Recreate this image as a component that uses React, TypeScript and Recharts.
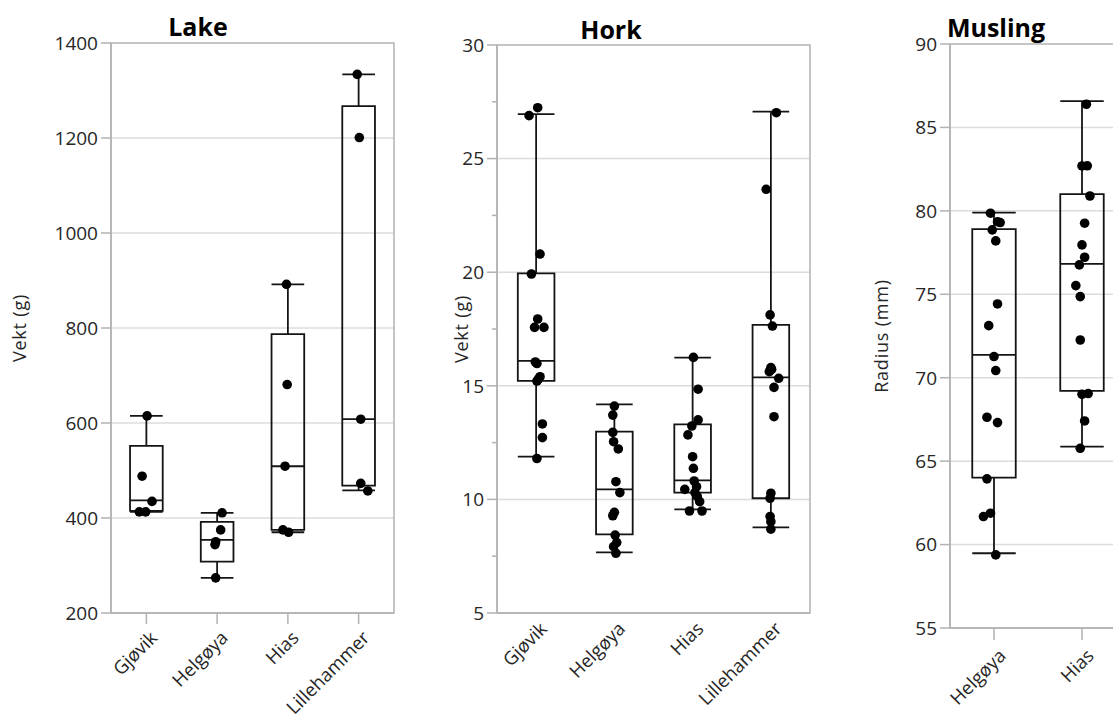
import React from "react";
import {
    ComposedChart, XAxis, YAxis, Scatter, ReferenceArea, ReferenceLine,
    CartesianGrid, Label,
} from "recharts";

const FONT = "'Segoe UI', 'Open Sans', sans-serif";
const AXIS = "#b2b2b2";
const GRID = "#dcdcdc";
const INK = "#141414";
const TEXT = "#262626";

// ── Lake (Vekt g) ────────────────────────────────────────────────────────────

const lakeCategories = ["Gjøvik", "Helgøya", "Hias", "Lillehammer"];
// [min, q1, median, q3, max]
const lakeBoxes = [
    [413, 415, 437, 552, 615],
    [274, 308, 354, 392, 411],
    [370, 375, 509, 787, 892],
    [458, 468, 608, 1267, 1334],
];
// single fish: [value, jitter from group centre]
const lakeGjovik = [[615, 0.01], [488, -0.06], [435, 0.08], [413, -0.1], [413, -0.01]];
const lakeHelgoya = [[411, 0.07], [375, 0.05], [350, -0.02], [344, -0.03], [274, -0.02]];
const lakeHias = [[892, -0.02], [681, -0.01], [509, -0.04], [375, -0.07], [370, 0.01]];
const lakeLillehammer = [[1334, -0.02], [1201, 0.01], [608, 0.03], [473, 0.03], [457, 0.13]];
const lakeTicks = [200, 400, 600, 800, 1000, 1200, 1400];

// ── Hork (Vekt g) ────────────────────────────────────────────────────────────

const horkCategories = ["Gjøvik", "Helgøya", "Hias", "Lillehammer"];
const horkBoxes = [
    [11.88, 15.22, 16.1, 19.95, 26.96],
    [7.67, 8.46, 10.44, 12.98, 14.18],
    [9.56, 10.3, 10.84, 13.3, 16.24],
    [8.77, 10.05, 15.37, 17.68, 27.07],
];
const horkGjovik = [
    [27.24, 0.02], [26.89, -0.09], [20.8, 0.05], [19.92, -0.06], [17.94, 0.02],
    [17.57, -0.02], [17.57, 0.1], [16.05, -0.01], [15.98, 0.01], [15.4, 0.05],
    [15.3, 0.03], [15.21, 0.01], [13.32, 0.08], [12.72, 0.08], [11.8, 0.01],
];
const horkHelgoya = [
    [14.11, 0.0], [13.71, -0.02], [12.95, -0.02], [12.54, -0.01], [12.22, 0.05],
    [10.78, 0.02], [10.3, 0.07], [9.43, 0.0], [9.28, -0.02], [8.43, 0.01],
    [8.1, 0.03], [7.92, -0.01], [7.63, 0.02],
];
const horkHias = [
    [16.25, 0.01], [14.85, 0.07], [13.5, 0.07], [13.23, -0.01], [12.84, -0.06],
    [11.88, 0.0], [11.37, 0.01], [10.81, 0.02], [10.56, 0.05], [10.44, -0.1],
    [10.3, 0.03], [10.12, 0.06], [9.9, 0.09], [9.49, -0.04], [9.49, 0.12],
];
const horkLillehammer = [
    [27.02, 0.07], [23.65, -0.06], [18.12, -0.01], [17.63, 0.02], [15.8, 0.0],
    [15.72, 0.01], [15.62, -0.02], [15.33, 0.1], [14.93, 0.04], [13.64, 0.04],
    [10.27, 0.0], [10.05, -0.01], [9.25, -0.01], [9.02, 0.0], [8.69, 0.0],
];
const horkTicks = [5, 10, 15, 20, 25, 30];
const horkMinorTicks = [7.5, 12.5, 17.5, 22.5, 27.5];

// ── Musling (Radius mm) ──────────────────────────────────────────────────────

const muslingCategories = ["Helgøya", "Hias"];
const muslingBoxes = [
    [59.48, 64.01, 71.37, 78.9, 79.9],
    [65.87, 69.21, 76.82, 81.0, 86.58],
];
const muslingHelgoya = [
    [79.86, -0.04], [79.35, 0.04], [79.3, 0.07], [78.86, -0.02], [78.2, 0.02],
    [74.42, 0.04], [73.12, -0.06], [71.27, 0.0], [70.43, 0.02], [67.63, -0.08],
    [67.31, 0.04], [63.94, -0.08], [61.88, -0.04], [61.68, -0.12], [59.38, 0.02],
];
const muslingHias = [
    [86.39, 0.05], [82.69, 0.0], [82.7, 0.06], [80.89, 0.09], [79.26, 0.03],
    [77.96, 0.0], [77.22, 0.03], [76.76, -0.03], [75.52, -0.07], [74.86, -0.02],
    [72.26, -0.02], [69.01, 0.0], [69.05, 0.07], [67.41, 0.03], [65.77, -0.02],
];
const muslingTicks = [55, 60, 65, 70, 75, 80, 85, 90];

// ── pieces ───────────────────────────────────────────────────────────────────

function YTick(props: any) {
    const { x, y, payload, majors, gap } = props;
    const major = majors.includes(payload.value);
    const ax = x + gap;
    return (
        <g>
            <line x1={ax - (major ? 10 : 5)} x2={ax} y1={y} y2={y} stroke={AXIS} strokeWidth={1.5} />
            {major && (
                <text x={x} y={y} dy="0.36em" textAnchor="end" fontSize={19} fontFamily={FONT} fill={TEXT}>
                    {payload.value}
                </text>
            )}
        </g>
    );
}

function XTick(props: any) {
    const { x, y, payload, names, dx, dy } = props;
    const tx = x + dx, ty = y + dy;
    return (
        <text x={tx} y={ty} transform={`rotate(-45 ${tx} ${ty})`} textAnchor="end"
            fontSize={18.5} fontFamily={FONT} fill={TEXT}>
            {names[payload.value - 1]}
        </text>
    );
}

type PanelProps = {
    categories: string[]; boxes: number[][]; groups: number[][][];
    ticks: number[]; minor?: number[]; yLabel: string;
    left: number; width: number; top: number; bottom: number; right: number;
    yWidth: number; labelOffset: number; half: number;
    xTickSize: number; xDx: number; xDy: number;
};

function Panel(p: PanelProps) {
    const n = p.categories.length;
    const lo = p.ticks[0], hi = p.ticks[p.ticks.length - 1];
    const pts = p.groups.flatMap((g, i) => g.map(([v, j]) => ({ x: i + 1 + j, y: v })));
    const allTicks = [...p.ticks, ...(p.minor ?? [])].sort((a, b) => a - b);
    const line = { stroke: INK, strokeWidth: 1.8 };
    return (
        <div style={{ position: "absolute", left: p.left, top: 0 }}>
            <ComposedChart width={p.width} height={720}
                margin={{ top: p.top, right: p.right, bottom: 0, left: 0 }}>
                <CartesianGrid vertical={false} horizontalValues={p.ticks.slice(1, -1)} stroke={GRID} strokeWidth={1.5} />
                <XAxis type="number" dataKey="x" domain={[0.5, n + 0.5]} ticks={p.categories.map((_, i) => i + 1)}
                    interval={0} height={720 - p.bottom} axisLine={{ stroke: AXIS, strokeWidth: 1.5 }}
                    tickLine={p.xTickSize > 0 ? { stroke: AXIS, strokeWidth: 1.5 } : false}
                    tickSize={p.xTickSize} tickMargin={0}
                    tick={(t: any) => <XTick {...t} names={p.categories} dx={p.xDx} dy={p.xDy - p.xTickSize} />} />
                <YAxis type="number" dataKey="y" domain={[lo, hi]} ticks={allTicks} interval={0}
                    width={p.yWidth} axisLine={{ stroke: AXIS, strokeWidth: 1.5 }} tickLine={false}
                    tickSize={10} tickMargin={3}
                    tick={(t: any) => <YTick {...t} majors={p.ticks} gap={13} />}>
                    <Label value={p.yLabel} angle={-90} position="insideLeft" offset={p.labelOffset}
                        style={{ textAnchor: "middle", fontSize: 18, letterSpacing: 0.8, fontFamily: FONT, fill: TEXT }} />
                </YAxis>
                <ReferenceArea x1={0.5} x2={n + 0.5} y1={lo} y2={hi} fill="#fff" fillOpacity={0}
                    stroke={AXIS} strokeWidth={1.5} />
                {p.boxes.map(([mn, q1, md, q3, mx], i) => (
                    <ReferenceArea key={"b" + i} x1={i + 1 - p.half} x2={i + 1 + p.half} y1={q1} y2={q3}
                        fill="#fff" fillOpacity={0} {...line} />
                ))}
                {p.boxes.map(([mn, q1, md, q3, mx], i) => (
                    <ReferenceLine key={"m" + i} segment={[{ x: i + 1 - p.half, y: md }, { x: i + 1 + p.half, y: md }]} {...line} />
                ))}
                {p.boxes.map(([mn, q1, md, q3, mx], i) => (
                    <ReferenceLine key={"u" + i} segment={[{ x: i + 1, y: q3 }, { x: i + 1, y: mx }]} {...line} />
                ))}
                {p.boxes.map(([mn, q1, md, q3, mx], i) => (
                    <ReferenceLine key={"l" + i} segment={[{ x: i + 1, y: mn }, { x: i + 1, y: q1 }]} {...line} />
                ))}
                {p.boxes.map(([mn, q1, md, q3, mx], i) => (
                    <ReferenceLine key={"cu" + i} segment={[{ x: i + 1 - p.half, y: mx }, { x: i + 1 + p.half, y: mx }]} {...line} />
                ))}
                {p.boxes.map(([mn, q1, md, q3, mx], i) => (
                    <ReferenceLine key={"cl" + i} segment={[{ x: i + 1 - p.half, y: mn }, { x: i + 1 + p.half, y: mn }]} {...line} />
                ))}
                <Scatter data={pts} isAnimationActive={false}
                    shape={(s: any) => <circle cx={s.cx} cy={s.cy} r={4.8} fill="#000" />} />
            </ComposedChart>
        </div>
    );
}

export default function App() {
    return (
        <div style={{ position: "fixed", left: 0, top: 0, width: 1113, height: 720, overflow: "hidden", background: "#fff" }}>
            <Panel categories={lakeCategories} boxes={lakeBoxes}
                groups={[lakeGjovik, lakeHelgoya, lakeHias, lakeLillehammer]}
                ticks={lakeTicks} yLabel="Vekt (g)"
                left={0} width={400} top={43} bottom={613} right={6} yWidth={111} labelOffset={20}
                half={0.231} xTickSize={11} xDx={12} xDy={26} />
            <Panel categories={horkCategories} boxes={horkBoxes}
                groups={[horkGjovik, horkHelgoya, horkHias, horkLillehammer]}
                ticks={horkTicks} minor={horkMinorTicks} yLabel="Vekt (g)"
                left={420} width={400} top={45} bottom={613} right={10} yWidth={77} labelOffset={42}
                half={0.234} xTickSize={0} xDx={12} xDy={17} />
            <Panel categories={muslingCategories} boxes={muslingBoxes}
                groups={[muslingHelgoya, muslingHias]}
                ticks={muslingTicks} yLabel="Radius (mm)"
                left={860} width={268} top={44} bottom={628} right={2} yWidth={90} labelOffset={22}
                half={0.247} xTickSize={12} xDx={13} xDy={29} />
            <svg width={1113} height={720} style={{ position: "absolute", left: 0, top: 0, pointerEvents: "none" }}>
                <text x={198} y={36} textAnchor="middle" fontSize={25} fontWeight="bold" fontFamily={FONT} fill="#000">Lake</text>
                <text x={611} y={39} textAnchor="middle" fontSize={25} fontWeight="bold" fontFamily={FONT} fill="#000">Hork</text>
                <text x={996} y={37} textAnchor="middle" fontSize={25} fontWeight="bold" fontFamily={FONT} fill="#000">Musling</text>
            </svg>
        </div>
    );
}
